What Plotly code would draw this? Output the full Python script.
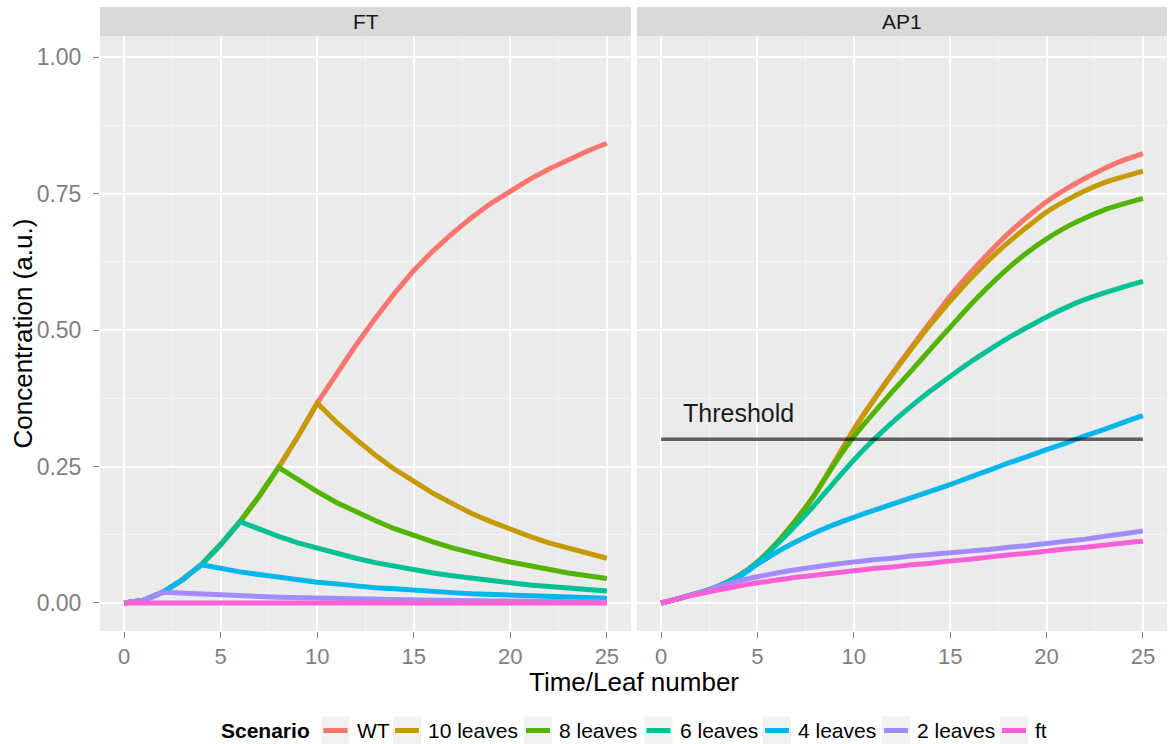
import plotly.graph_objects as go

# ---- scenarios and colours -------------------------------------------------
scenarios = ["WT", "10 leaves", "8 leaves", "6 leaves", "4 leaves", "2 leaves", "ft"]
colors = ["#F8766D", "#C49A00", "#53B400", "#00C094", "#00B6EB", "#A58AFF", "#FB61D7"]

# ---- FT panel (time in leaf units 0..25) ----------------------------------
t_ft = list(range(26))
ft_wt = [0, 0.005, 0.0195, 0.042, 0.07, 0.107, 0.149, 0.196, 0.2485, 0.305, 0.366,
         0.42, 0.472, 0.521, 0.567, 0.609, 0.645, 0.677, 0.706, 0.732, 0.755,
         0.776, 0.795, 0.812, 0.828, 0.842]
ft_10 = [0, 0.005, 0.0195, 0.042, 0.07, 0.107, 0.149, 0.196, 0.2485, 0.305, 0.366,
         0.331, 0.300, 0.271, 0.245, 0.222, 0.201, 0.182, 0.164, 0.149, 0.135,
         0.122, 0.110, 0.100, 0.090, 0.082]
ft_8 = [0, 0.005, 0.0195, 0.042, 0.07, 0.107, 0.149, 0.196, 0.2485,
        0.225, 0.204, 0.184, 0.167, 0.151, 0.136, 0.123, 0.112, 0.101, 0.091,
        0.083, 0.075, 0.068, 0.061, 0.055, 0.050, 0.045]
ft_6 = [0, 0.005, 0.0195, 0.042, 0.07, 0.107, 0.149,
        0.135, 0.122, 0.110, 0.100, 0.090, 0.082, 0.074, 0.067, 0.061, 0.055,
        0.050, 0.045, 0.041, 0.037, 0.033, 0.030, 0.027, 0.025, 0.022]
ft_4 = [0, 0.005, 0.0195, 0.042, 0.07,
        0.063, 0.057, 0.052, 0.047, 0.042, 0.038, 0.035, 0.031, 0.028, 0.026,
        0.023, 0.021, 0.019, 0.017, 0.016, 0.014, 0.013, 0.012, 0.011, 0.0095, 0.0086]
ft_2 = [0, 0.005, 0.0195,
        0.0176, 0.016, 0.0145, 0.013, 0.012, 0.0107, 0.0097, 0.0088, 0.008, 0.0072,
        0.0065, 0.0059, 0.0053, 0.0048, 0.0044, 0.004, 0.0036, 0.0032, 0.0029,
        0.0026, 0.0024, 0.0021, 0.002]
ft_ft = [0] * 26

# ---- AP1 panel -------------------------------------------------------------
t_ap1 = list(range(26))
ap1_wt = [0, 0.009, 0.019, 0.031, 0.049, 0.075, 0.11, 0.152, 0.2, 0.258, 0.318,
          0.371, 0.421, 0.469, 0.516, 0.562, 0.603, 0.641, 0.676, 0.707, 0.735,
          0.758, 0.778, 0.796, 0.811, 0.823]
ap1_10 = [0, 0.009, 0.019, 0.031, 0.049, 0.075, 0.11, 0.152, 0.2, 0.258, 0.317,
          0.37, 0.419, 0.466, 0.511, 0.553, 0.592, 0.628, 0.66, 0.689, 0.716,
          0.737, 0.755, 0.77, 0.781, 0.791]
ap1_8 = [0, 0.009, 0.019, 0.031, 0.049, 0.075, 0.11, 0.152, 0.2, 0.255, 0.305,
         0.347, 0.387, 0.426, 0.466, 0.505, 0.544, 0.58, 0.613, 0.642, 0.667,
         0.688, 0.705, 0.72, 0.731, 0.741]
ap1_6 = [0, 0.009, 0.019, 0.031, 0.049, 0.074, 0.107, 0.143, 0.181, 0.222, 0.262,
         0.298, 0.331, 0.361, 0.389, 0.415, 0.44, 0.463, 0.485, 0.505, 0.524,
         0.541, 0.556, 0.568, 0.579, 0.589]
ap1_4 = [0, 0.009, 0.019, 0.031, 0.047, 0.071, 0.093, 0.112, 0.129, 0.144, 0.157,
         0.169, 0.181, 0.193, 0.205, 0.217, 0.23, 0.243, 0.256, 0.268, 0.281,
         0.293, 0.306, 0.318, 0.331, 0.343]
ap1_2 = [0, 0.009, 0.019, 0.03, 0.04, 0.048, 0.055, 0.061, 0.066, 0.071, 0.075,
         0.079, 0.082, 0.086, 0.089, 0.092, 0.095, 0.098, 0.102, 0.105, 0.109,
         0.113, 0.117, 0.122, 0.127, 0.132]
ap1_ft = [0, 0.009, 0.017, 0.024, 0.031, 0.037, 0.042, 0.047, 0.051, 0.055, 0.059,
          0.063, 0.066, 0.07, 0.073, 0.077, 0.08, 0.084, 0.088, 0.091, 0.095,
          0.099, 0.102, 0.106, 0.11, 0.113]

threshold = 0.3
threshold_t = [0, 25]
threshold_label = "Threshold"
threshold_label_pos = (4.0, 0.348)

panel_titles = ["FT", "AP1"]
x_ticks = [0, 5, 10, 15, 20, 25]
y_ticks = [0, 0.25, 0.5, 0.75, 1.0]
y_ticklabels = ["0.00", "0.25", "0.50", "0.75", "1.00"]

ft_series = [ft_wt, ft_10, ft_8, ft_6, ft_4, ft_2, ft_ft]
ap1_series = [ap1_wt, ap1_10, ap1_8, ap1_6, ap1_4, ap1_2, ap1_ft]

# ---- page geometry ---------------------------------------------------------
W, H = 1173, 744
ML, MR, MT, MB = 100, 6, 36, 113
PW, PH = W - ML - MR, H - MT - MB
FONT = "Liberation Sans, Arial, Helvetica, sans-serif"
LINE_W = 5
TICK_GREY = "#7F7F7F"


def px_x(px):
    return (px - ML) / PW


def px_y(py):
    return (H - MB - py) / PH


fig = go.Figure()

for name, col, ys in zip(scenarios, colors, ft_series):
    fig.add_trace(go.Scatter(x=t_ft, y=ys, mode="lines", name=name,
                             line=dict(color=col, width=LINE_W),
                             xaxis="x", yaxis="y", showlegend=False))

for name, col, ys in zip(scenarios, colors, ap1_series):
    fig.add_trace(go.Scatter(x=t_ap1, y=ys, mode="lines", name=name,
                             line=dict(color=col, width=LINE_W, shape="spline", smoothing=0.6),
                             xaxis="x2", yaxis="y2", showlegend=False))

fig.add_trace(go.Scatter(x=threshold_t, y=[threshold, threshold], mode="lines",
                         line=dict(color="rgba(0,0,0,0.6)", width=3.5),
                         xaxis="x2", yaxis="y2", showlegend=False, hoverinfo="skip"))

x_range = [-1.25, 26.25]
y_range = [-0.0513, 1.0385]

axis_common = dict(
    range=x_range, tickvals=x_ticks, ticks="outside", ticklen=6, tickwidth=1.2,
    tickcolor=TICK_GREY, showgrid=True, gridcolor="white", gridwidth=1.8,
    zeroline=False, showline=False,
    tickfont=dict(family=FONT, size=22, color=TICK_GREY),
    minor=dict(tickvals=[2.5, 7.5, 12.5, 17.5, 22.5], showgrid=True,
               gridcolor="#F4F4F4", gridwidth=1, ticks=""),
    ticklabelstandoff=0,
)

yaxis_common = dict(
    range=y_range, tickvals=y_ticks, ticktext=y_ticklabels,
    showgrid=True, gridcolor="white", gridwidth=1.8, zeroline=False, showline=False,
    minor=dict(tickvals=[0.125, 0.375, 0.625, 0.875], showgrid=True,
               gridcolor="#F4F4F4", gridwidth=1, ticks=""),
)

left_dom = [0, px_x(631)]
right_dom = [px_x(637), 1]

fig.update_layout(
    width=W, height=H,
    margin=dict(l=ML, r=MR, t=MT, b=MB),
    paper_bgcolor="white", plot_bgcolor="#EBEBEB",
    font=dict(family=FONT, color="black"),
    xaxis=dict(domain=left_dom, anchor="y", **axis_common),
    xaxis2=dict(domain=right_dom, anchor="y2", **axis_common),
    yaxis=dict(domain=[0, 1], anchor="x", ticks="outside", ticklen=6, tickwidth=1.2,
               tickcolor=TICK_GREY, ticklabelstandoff=7,
               tickfont=dict(family=FONT, size=23, color=TICK_GREY), **yaxis_common),
    yaxis2=dict(domain=[0, 1], anchor="x2", matches="y", ticks="", showticklabels=False,
                **yaxis_common),
    showlegend=False,
)

shapes = []
annotations = []

# facet strips
strip_top = px_y(7)
for ref, title in zip(["x domain", "x2 domain"], panel_titles):
    shapes.append(dict(type="rect", xref=ref, yref="paper", x0=0, x1=1, y0=1, y1=strip_top,
                       fillcolor="#D9D9D9", line=dict(width=0), layer="below"))
    annotations.append(dict(xref=ref, yref="paper", x=0.5, y=(1 + strip_top) / 2,
                            text=title, showarrow=False, xanchor="center", yanchor="middle",
                            font=dict(family=FONT, size=21, color="#1A1A1A")))

# threshold label
annotations.append(dict(xref="x2", yref="y2", x=threshold_label_pos[0], y=threshold_label_pos[1],
                        text=threshold_label, showarrow=False, xanchor="center", yanchor="middle",
                        font=dict(family=FONT, size=25, color="#1A1A1A")))

# axis titles
annotations.append(dict(xref="paper", yref="paper", x=0.5, y=px_y(682),
                        text="Time/Leaf number", showarrow=False, xanchor="center",
                        yanchor="middle", font=dict(family=FONT, size=26, color="black")))
annotations.append(dict(xref="paper", yref="paper", x=px_x(22), y=px_y(333.5),
                        text="Concentration (a.u.)", showarrow=False, textangle=-90,
                        xanchor="center", yanchor="middle",
                        font=dict(family=FONT, size=26, color="black")))

# legend drawn along the bottom
legend_cy = 730.5
key_w = 28
key_left = [321.5, 393, 524, 644.5, 763, 882, 1000]
annotations.append(dict(xref="paper", yref="paper", x=px_x(312), y=px_y(legend_cy),
                        text="<b>Scenario</b>", showarrow=False, xanchor="right",
                        yanchor="middle", font=dict(family=FONT, size=21, color="black")))
for name, col, kx in zip(scenarios, colors, key_left):
    shapes.append(dict(type="rect", xref="paper", yref="paper",
                       x0=px_x(kx), x1=px_x(kx + key_w),
                       y0=px_y(legend_cy - key_w / 2), y1=px_y(legend_cy + key_w / 2),
                       fillcolor="#F2F2F2", line=dict(width=0)))
    shapes.append(dict(type="line", xref="paper", yref="paper",
                       x0=px_x(kx + 2), x1=px_x(kx + key_w - 2),
                       y0=px_y(legend_cy), y1=px_y(legend_cy),
                       line=dict(color=col, width=LINE_W)))
    annotations.append(dict(xref="paper", yref="paper", x=px_x(kx + key_w + 5),
                            y=px_y(legend_cy), text=name, showarrow=False,
                            xanchor="left", yanchor="middle",
                            font=dict(family=FONT, size=21, color="black")))

fig.update_layout(shapes=shapes, annotations=annotations)
fig.write_html("out.html")
